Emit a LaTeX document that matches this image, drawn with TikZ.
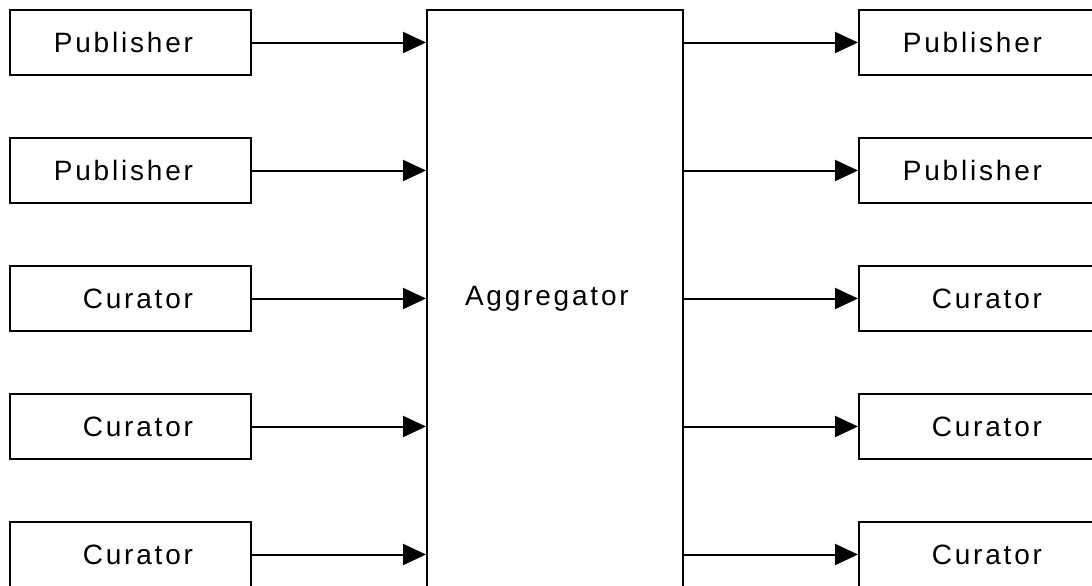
\documentclass[tikz,border=0pt]{standalone}
\usepackage{fontspec}
\newfontfamily\boxfont{Liberation Sans}[LetterSpace=10]
\usepackage{tikz}
\usetikzlibrary{arrows.meta}
\tikzset{
  unit/.style={draw,rectangle,line width=1pt,inner sep=0pt,font=\boxfont\fontsize{14}{16}\selectfont},
  feed/.style={unit,text width=120.5pt,minimum height=32.5pt,align=right,execute at end node={\hspace*{29pt}}},
  hub/.style={unit,text width=128pt,minimum height=289pt,align=left,execute at begin node={\noindent\hspace*{19pt}}},
}

\begin{document}
\begin{tikzpicture}[x=0.5pt,y=-0.5pt,line width=1pt,>={Triangle[length=11.5pt,width=10.5pt]}]
        \clip (0,0) rectangle (1092,585);
        % middle
        \node[hub] (agg) at (555,299) {Aggregator};
        % inputs
        \node[feed] (pubin1) at (130.5,42.5) {Publisher};
        \node[feed] (pubin2) at (130.5,170.5) {Publisher};
        \node[feed] (curin1) at (130.5,298.5) {Curator};
        \node[feed] (curin2) at (130.5,426.5) {Curator};
        \node[feed] (curin3) at (130.5,554.5) {Curator};
        % outputs
        \node[feed] (pubout1) at (979.5,42.5) {Publisher};
        \node[feed] (pubout2) at (979.5,170.5) {Publisher};
        \node[feed] (curout1) at (979.5,298.5) {Curator};
        \node[feed] (curout2) at (979.5,426.5) {Curator};
        \node[feed] (curout3) at (979.5,554.5) {Curator};
        % arrows in
        \draw[->] (pubin1.east) -- (pubin1.east -| agg.west);
        \draw[->] (pubin2.east) -- (pubin2.east -| agg.west);
        \draw[->] (curin1.east) -- (curin1.east -| agg.west);
        \draw[->] (curin2.east) -- (curin2.east -| agg.west);
        \draw[->] (curin3.east) -- (curin3.east -| agg.west);
        % arrows out
        \draw[->] (agg.east |- pubout1.west) -- (pubout1.west);
        \draw[->] (agg.east |- pubout2.west) -- (pubout2.west);
        \draw[->] (agg.east |- curout1.west) -- (curout1.west);
        \draw[->] (agg.east |- curout2.west) -- (curout2.west);
        \draw[->] (agg.east |- curout3.west) -- (curout3.west);
\end{tikzpicture}
\end{document}
